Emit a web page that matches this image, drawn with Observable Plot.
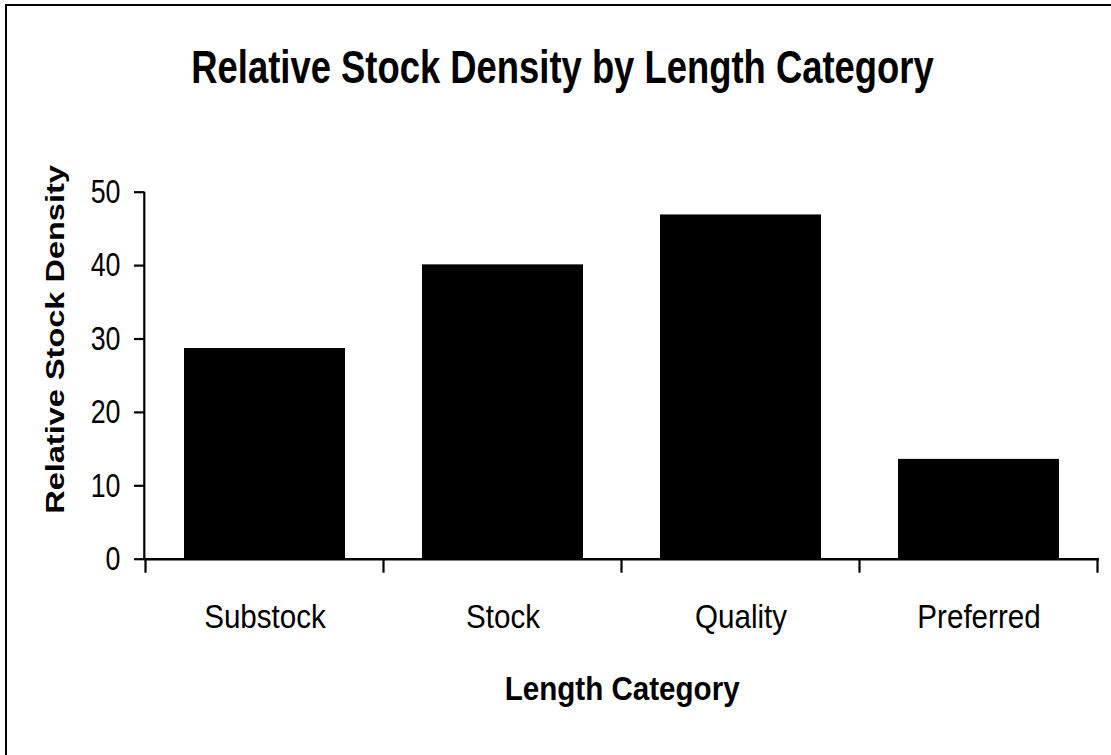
<!DOCTYPE html>
<html>
<head>
<meta charset="utf-8">
<script src="https://cdn.jsdelivr.net/npm/d3@7"></script>
<script src="https://cdn.jsdelivr.net/npm/@observablehq/plot@0.6"></script>
<style>
  html, body { margin: 0; padding: 0; background: #fff; overflow: hidden; }
  #page { position: relative; width: 1111px; height: 755px; overflow: hidden; background: #fff; }
  #box {
    position: absolute; left: 5px; top: 4px; width: 1200px; height: 900px;
    border-left: 2.5px solid #000; border-top: 2.5px solid #000;
  }
  #title {
    position: absolute; left: 0; top: 44.8px; width: 1125px;
    text-align: center; color: #000;
    font: bold 45.5px/1 "Liberation Sans", Arial, sans-serif;
    transform: scaleX(0.8);
  }
  #chart { position: absolute; left: 0; top: 150px; }
  #chart svg { font-family: "Liberation Sans", Arial, sans-serif; color: #000; overflow: visible; }
</style>
</head>
<body>
<div id="page">
  <div id="box"></div>
  <div id="title"></div>
  <div id="chart"></div>
</div>
<script>
// Length categories and their relative stock density
const categories = ["Substock", "Stock", "Quality", "Preferred"];
const densities = [28.7, 40.1, 46.9, 13.6];
const yTicks = [0, 10, 20, 30, 40, 50];

const chartTitle = "Relative Stock Density by Length Category";
const xTitle = "Length Category";
const yTitle = "Relative Stock Density";

const data = categories.map((category, i) => ({category, density: densities[i]}));

document.getElementById("title").textContent = chartTitle;

// Axis lines: vertical y axis and category-boundary ticks under the x axis
function axisLines(index, scales, values, dims) {
  const x = scales.x, y = scales.y;
  const g = d3.create("svg:g")
    .attr("stroke", "#000")
    .attr("stroke-width", 2.2)
    .attr("fill", "none");
  const left = dims.marginLeft;
  const y0 = y(0);
  g.append("line")
    .attr("x1", left).attr("x2", left)
    .attr("y1", y0).attr("y2", y(d3.max(yTicks)));
  const step = x.step ? x.step() : (x(categories[1]) - x(categories[0]));
  const bw = x.bandwidth ? x.bandwidth() : 0;
  const edges = categories.map(c => x(c) + bw / 2 - step / 2);
  edges.push(x(categories[categories.length - 1]) + bw / 2 + step / 2);
  for (const e of edges) {
    g.append("line")
      .attr("x1", e).attr("x2", e)
      .attr("y1", y0).attr("y2", y0 + 14);
  }
  return g.node();
}

const svg = Plot.plot({
  width: 1111,
  height: 605,
  marginLeft: 144.3,
  marginRight: 12,
  marginTop: 41.7,
  marginBottom: 196.3,
  style: {background: "transparent", fontFamily: "Liberation Sans, Arial, sans-serif", color: "#000", overflow: "visible"},
  x: {domain: categories, paddingInner: 0.325, paddingOuter: 0.1625, label: null},
  y: {domain: [0, 50], label: null},
  marks: [
    Plot.barY(data, {x: "category", y: "density", fill: "#000"}),
    Plot.ruleY([0], {stroke: "#000", strokeWidth: 2.5}),
    axisLines,
    Plot.axisY({
      ticks: yTicks, tickSize: 10.3, tickPadding: 14, fontSize: 33.5,
      tickFormat: d => String(d), strokeWidth: 2.2, label: null
    }),
    Plot.axisX({tickSize: 0, tickPadding: 45, fontSize: 34, label: null}),
    Plot.text([xTitle], {
      text: d => d, frameAnchor: "bottom", lineAnchor: "middle", textAnchor: "middle",
      dy: 129.5, fontSize: 34, fontWeight: "bold", fill: "#000"
    }),
    Plot.text([yTitle], {
      text: d => d, frameAnchor: "left", rotate: -90, lineAnchor: "middle", textAnchor: "middle",
      dx: -89.3, dy: -36.2, fontSize: 25.6, fontWeight: "bold", fill: "#000"
    })
  ]
});

// Stretch text along its own baseline around its anchor point
function stretch(el, sx) {
  let t = el.getAttribute("transform");
  if (!t) {
    const x = el.getAttribute("x") || 0;
    t = `translate(${x},0)`;
    el.removeAttribute("x");
  }
  el.setAttribute("transform", `${t} scale(${sx},1)`);
}

const root = d3.select(svg);
root.selectAll('g[aria-label="y-axis tick label"] text').each(function() { stretch(this, 0.8); });
root.selectAll('g[aria-label="x-axis tick label"] text').each(function() { stretch(this, 0.87); });
root.selectAll("text").filter(function() { return this.textContent === xTitle; })
  .each(function() { stretch(this, 0.87); });
root.selectAll("text").filter(function() { return this.textContent === yTitle; })
  .each(function() { stretch(this, 1.27); });

document.getElementById("chart").appendChild(svg);
</script>
</body>
</html>
